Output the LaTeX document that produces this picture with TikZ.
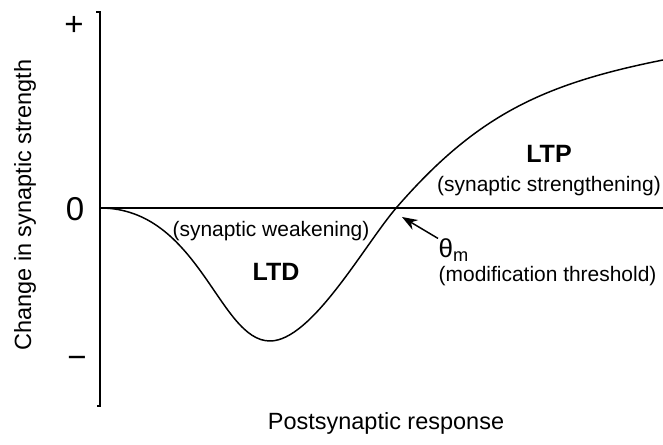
\documentclass[tikz,border=0pt]{standalone}
\usepackage{fontspec}
\setmainfont{Liberation Sans}
\usetikzlibrary{arrows.meta,positioning}

\begin{document}
\begin{tikzpicture}[line width=1.05pt,>={Stealth[length=11pt,width=8pt]},
                  tag/.style={inner sep=0pt,font=\fontsize{14.9}{17}\selectfont},
                  bigtag/.style={inner sep=0pt,font=\fontsize{17.8}{20}\selectfont\bfseries},
                  axtag/.style={inner sep=0pt,font=\fontsize{16.7}{19}\selectfont},
                  sign/.style={inner sep=0pt,font=\fontsize{23.5}{26}\selectfont}]

    \useasboundingbox (0,0) rectangle (16.575,11.125);

    % axes
    \coordinate (top) at (2.5,10.825);
    \coordinate (bot) at (2.5,0.975);
    \coordinate (orig) at (2.5,5.925);
    \coordinate (far) at (16.575,5.925);
    \draw ([xshift=-0.1cm]top) -- (top) -- (bot) -- ([xshift=-0.08cm]bot);
    \draw (orig) -- (far);

    \node[sign] (plus) at (1.85,10.475) {+};
    \node[sign] (zero) at (1.875,5.9) {0};
    \node[sign] (minus) at (1.925,2.075) {−};
    \node[axtag,rotate=90] (ylab) at (0.625,6.0) {Change in synaptic strength};
    \node[axtag] (xlab) at (9.65,0.55) {Postsynaptic response};

    % BCM curve
    \coordinate (dip) at (6.75,2.6);
    \coordinate (cross) at (9.925,5.95);
    \coordinate (end) at (16.575,9.625);
    \draw (orig) .. controls (4.98,5.925) and (5.47,2.6) .. (dip)
                 .. controls (7.8,2.6) and (9.125,5.03) .. (cross)
                 .. controls (11.925,8.25) and (13.575,9.025) .. (end);

    \node[tag] (weak) at (6.775,5.35) {(synaptic weakening)};
    \node[bigtag] (ltd) at (6.9,4.325) {LTD};
    \node[tag] (strong) at (13.725,6.475) {(synaptic strengthening)};
    \node[bigtag, above=0.3cm of strong] (ltp) {LTP};

    % threshold
    \coordinate (thr) at (10.05,5.7);
    \node[bigtag,font=\fontsize{18.5}{20}\selectfont,anchor=base west] (thm) at (10.95,4.675) {θ\textsubscript{m}};
    \node[tag,anchor=north west] (mod) at (10.95,4.49) {(modification threshold)};
    \draw[->] (thm.north west) -- (thr);
\end{tikzpicture}
\end{document}
